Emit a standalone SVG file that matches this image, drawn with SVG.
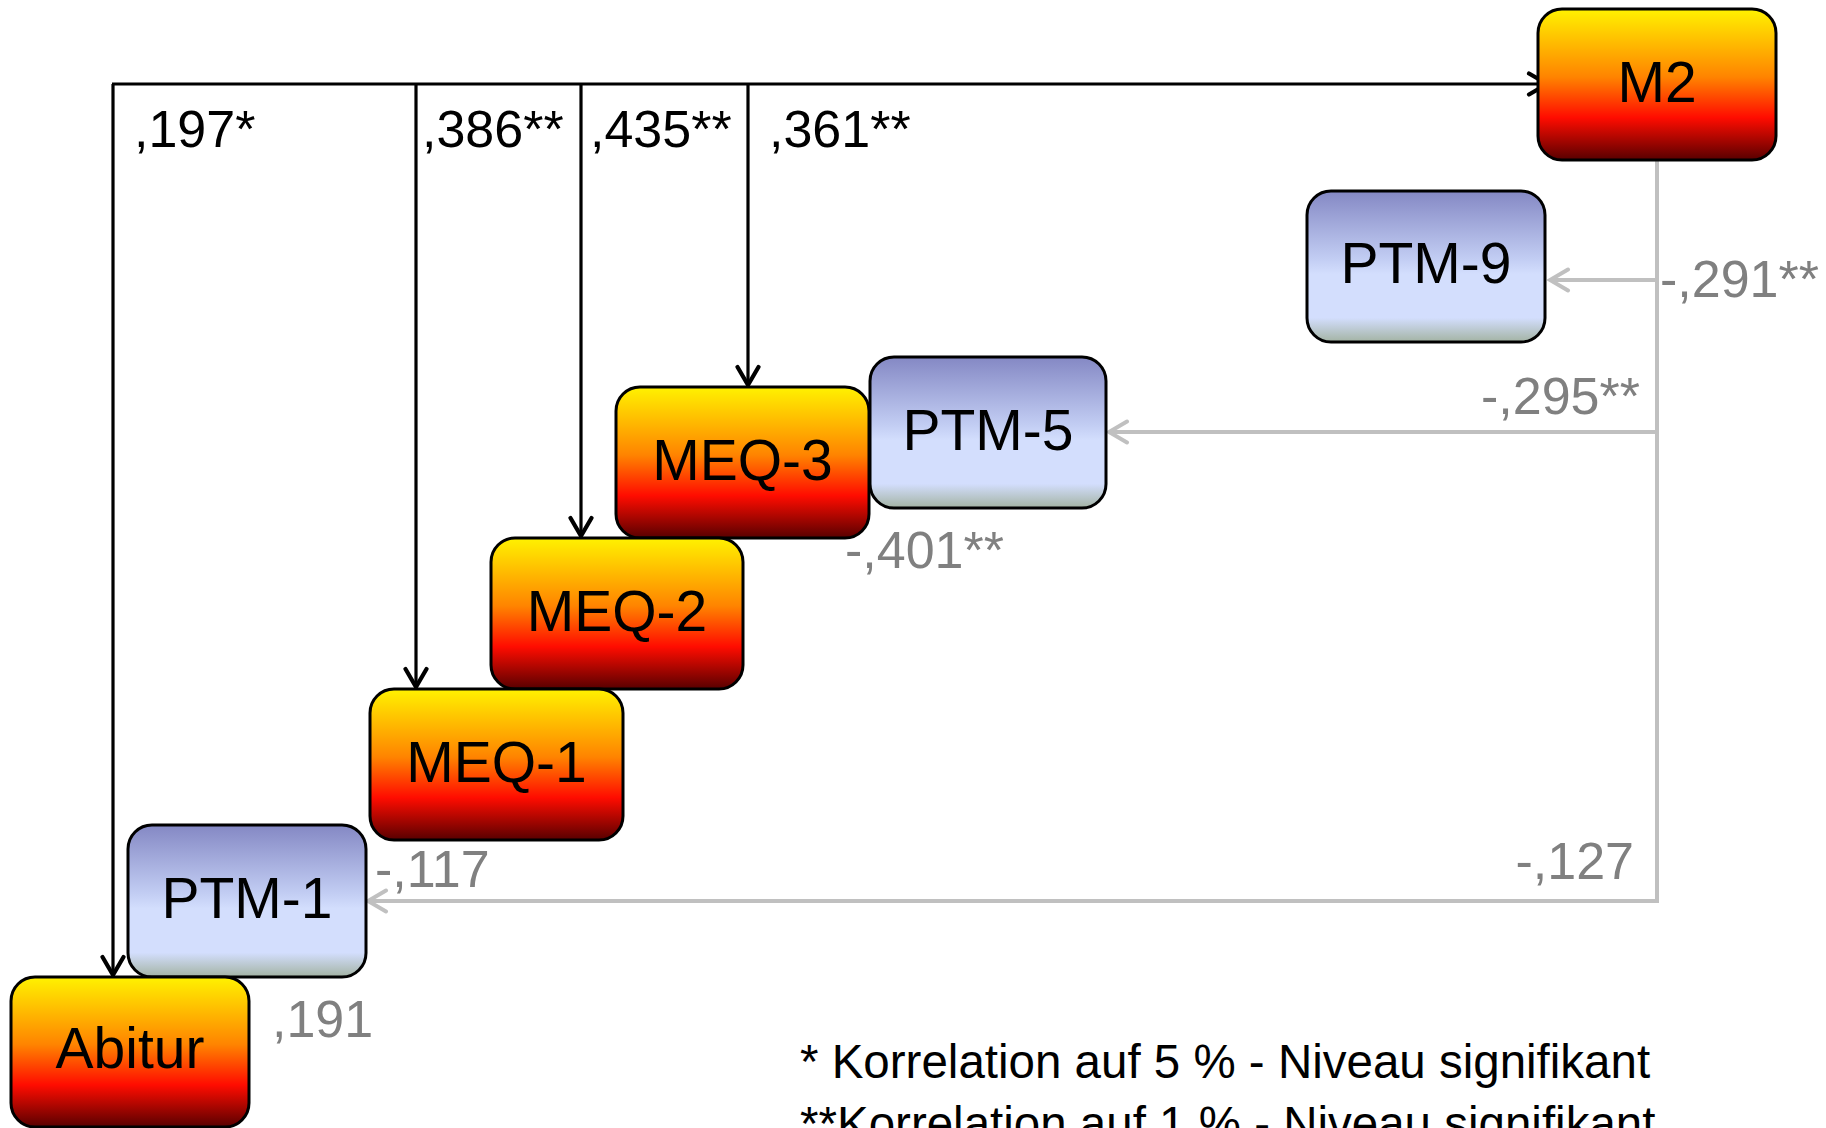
<svg xmlns="http://www.w3.org/2000/svg" width="1826" height="1128" viewBox="0 0 1826 1128">
<style>
.node{stroke:#000;stroke-width:3}
.hot{fill:url(#gHot)}
.cool{fill:url(#gCool)}
.nt{font-family:"Liberation Sans",Arial,sans-serif;font-size:57px;fill:#000;text-anchor:middle}
.lb{font-family:"Liberation Sans",Arial,sans-serif;font-size:52px;fill:#000}
.lg{font-family:"Liberation Sans",Arial,sans-serif;font-size:52px;fill:#808080}
.leg{font-family:"Liberation Sans",Arial,sans-serif;font-size:47.5px;fill:#000}
.cb{fill:none;stroke:#000;stroke-width:3.2}
.cg{fill:none;stroke:#C0C0C0;stroke-width:4}
</style>
<defs>
<linearGradient id="gHot" x1="0" y1="0" x2="0" y2="1">
<stop offset="0" stop-color="#FFF200"/>
<stop offset="0.45" stop-color="#FF8400"/>
<stop offset="0.72" stop-color="#FF0C00"/>
<stop offset="1" stop-color="#580000"/>
</linearGradient>
<linearGradient id="gCool" x1="0" y1="0" x2="0" y2="1">
<stop offset="0" stop-color="#8488C4"/>
<stop offset="0.45" stop-color="#C2CDF3"/>
<stop offset="0.55" stop-color="#D3DEFD"/>
<stop offset="0.84" stop-color="#D3DEFD"/>
<stop offset="1" stop-color="#A3B3A3"/>
</linearGradient>
<marker id="ab" viewBox="0 0 24 26" refX="21" refY="13" markerWidth="24" markerHeight="26" markerUnits="userSpaceOnUse" orient="auto">
<path d="M3,2.5 L21,13 L3,23.5" fill="none" stroke="#000" stroke-width="4.2" stroke-linecap="round" stroke-linejoin="miter"/>
</marker>
<marker id="ag" viewBox="0 0 24 26" refX="21" refY="13" markerWidth="24" markerHeight="26" markerUnits="userSpaceOnUse" orient="auto">
<path d="M3,2.5 L21,13 L3,23.5" fill="none" stroke="#C0C0C0" stroke-width="4" stroke-linecap="round" stroke-linejoin="miter"/>
</marker>
</defs>
<rect width="1826" height="1128" fill="#fff"/>

<g id="connectors">
<path class="cb" d="M112,84 H1547" stroke-width="4.5" marker-end="url(#ab)"/>
<path class="cb" d="M113,84 V975" marker-end="url(#ab)"/>
<path class="cb" d="M416,84 V687" marker-end="url(#ab)"/>
<path class="cb" d="M581,84 V536" marker-end="url(#ab)"/>
<path class="cb" d="M748,84 V385" marker-end="url(#ab)"/>
<path class="cg" d="M1657,160 V901 H368" marker-end="url(#ag)"/>
<path class="cg" d="M1657,280 H1550" marker-end="url(#ag)"/>
<path class="cg" d="M1657,432 H1109" marker-end="url(#ag)"/>
</g>

<g id="labels">
<text class="lb" x="134" y="147">,197*</text>
<text class="lb" x="422" y="147">,386**</text>
<text class="lb" x="590" y="147">,435**</text>
<text class="lb" x="769" y="147">,361**</text>
<text class="lg" x="1660" y="297">-,291**</text>
<text class="lg" x="1640" y="414" text-anchor="end">-,295**</text>
<text class="lg" x="845" y="568">-,401**</text>
<text class="lg" x="1634" y="879" text-anchor="end">-,127</text>
<text class="lg" x="375" y="887">-,117</text>
<text class="lg" x="272" y="1037">,191</text>
</g>

<g id="node-M2">
<rect class="node hot" x="1538" y="9" width="238" height="151" rx="24"/>
<text class="nt" x="1657" y="102">M2</text>
</g>
<g id="node-PTM-9">
<rect class="node cool" x="1307" y="191" width="238" height="151" rx="24"/>
<text class="nt" x="1426" y="283">PTM-9</text>
</g>
<g id="node-PTM-5">
<rect class="node cool" x="870" y="357" width="236" height="151" rx="24"/>
<text class="nt" x="988" y="450">PTM-5</text>
</g>
<g id="node-MEQ-3">
<rect class="node hot" x="616" y="387" width="253" height="151" rx="24"/>
<text class="nt" x="742.5" y="480">MEQ-3</text>
</g>
<g id="node-MEQ-2">
<rect class="node hot" x="491" y="538" width="252" height="151" rx="24"/>
<text class="nt" x="617" y="631">MEQ-2</text>
</g>
<g id="node-MEQ-1">
<rect class="node hot" x="370" y="689" width="253" height="151" rx="24"/>
<text class="nt" x="496.5" y="782">MEQ-1</text>
</g>
<g id="node-PTM-1">
<rect class="node cool" x="128" y="825" width="238" height="152" rx="24"/>
<text class="nt" x="247" y="918">PTM-1</text>
</g>
<g id="node-Abitur">
<rect class="node hot" x="11" y="977" width="238" height="150" rx="24"/>
<text class="nt" x="130" y="1068">Abitur</text>
</g>

<g id="legend">
<text class="leg" x="800" y="1078">* Korrelation auf 5 % - Niveau signifikant</text>
<text class="leg" x="800" y="1140">**Korrelation auf 1 % - Niveau signifikant</text>
</g>
</svg>
